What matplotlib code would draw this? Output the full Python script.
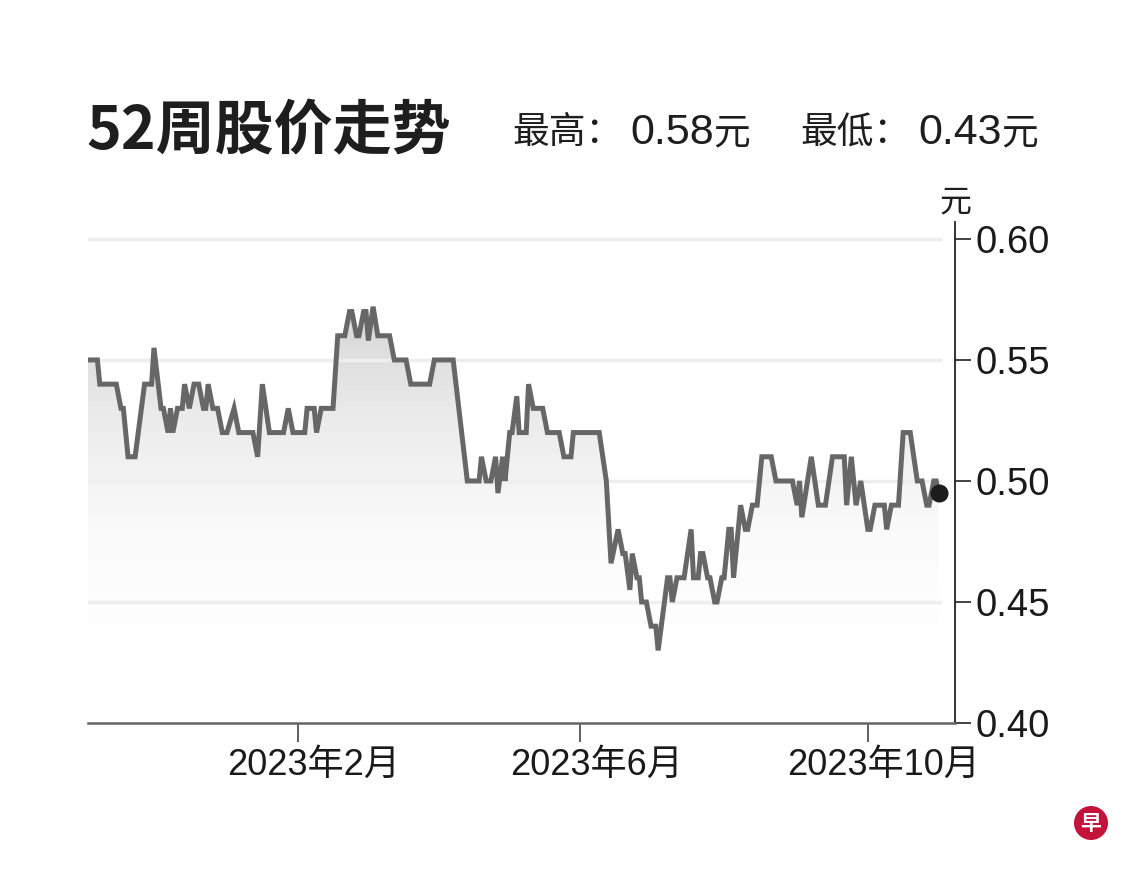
import numpy as np
import matplotlib
matplotlib.use("Agg")
import matplotlib.pyplot as plt
import matplotlib.dates as mdates
from matplotlib.colors import LinearSegmentedColormap
from matplotlib.patches import Circle
from matplotlib.transforms import ScaledTranslation, IdentityTransform

# -----------------------------------------------------------------
# Data (days counted from start_date)
# -----------------------------------------------------------------
start_date = "2022-11-04"
day_offset = [0, 4, 5, 12, 14, 15, 17, 20, 24, 27, 28, 31, 32, 34, 35, 36, 38, 40,
              41, 43, 45, 47, 49, 50, 51, 53, 55, 57, 59, 62, 64, 70, 72, 74, 77,
              83, 85, 87, 92, 93, 96, 97, 99, 104, 106, 109, 111, 112, 114, 115,
              117, 118, 119, 121, 123, 128, 130, 135, 137, 145, 147, 155, 161,
              166, 167, 169, 171, 173, 174, 176, 177, 179, 180, 182, 183, 186,
              187, 189, 193, 195, 200, 202, 205, 206, 217, 220, 222, 225, 227,
              228, 230, 231, 233, 234, 235, 237, 239, 241, 242, 246, 247, 248,
              250, 253, 256, 257, 259, 260, 261, 263, 264, 266, 267, 269, 270,
              272, 273, 274, 277, 279, 280, 282, 284, 286, 290, 292, 299, 301,
              302, 303, 307, 310, 313, 316, 321, 322, 324, 326, 328, 331, 332,
              334, 338, 339, 341, 344, 346, 349, 352, 354, 356, 357, 359, 360, 361]
price = [0.55, 0.55, 0.54, 0.54, 0.53, 0.53, 0.51, 0.51, 0.54, 0.54, 0.555, 0.53,
         0.53, 0.52, 0.53, 0.52, 0.53, 0.53, 0.54, 0.53, 0.54, 0.54, 0.53, 0.53,
         0.54, 0.53, 0.53, 0.52, 0.52, 0.53, 0.52, 0.52, 0.51, 0.54, 0.52, 0.52,
         0.53, 0.52, 0.52, 0.53, 0.53, 0.52, 0.53, 0.53, 0.56, 0.56, 0.57, 0.57,
         0.56, 0.56, 0.57, 0.57, 0.558, 0.572, 0.56, 0.56, 0.55, 0.55, 0.54, 0.54,
         0.55, 0.55, 0.50, 0.50, 0.51, 0.50, 0.50, 0.51, 0.495, 0.51, 0.50, 0.52,
         0.52, 0.535, 0.52, 0.52, 0.54, 0.53, 0.53, 0.52, 0.52, 0.51, 0.51, 0.52,
         0.52, 0.50, 0.466, 0.48, 0.47, 0.47, 0.455, 0.47, 0.46, 0.46, 0.45, 0.45,
         0.44, 0.44, 0.43, 0.46, 0.46, 0.45, 0.46, 0.46, 0.48, 0.46, 0.46, 0.47,
         0.47, 0.46, 0.46, 0.45, 0.45, 0.46, 0.46, 0.48, 0.48, 0.46, 0.49, 0.48,
         0.48, 0.49, 0.49, 0.51, 0.51, 0.50, 0.50, 0.49, 0.50, 0.485, 0.51, 0.49,
         0.49, 0.51, 0.51, 0.49, 0.51, 0.49, 0.50, 0.48, 0.48, 0.49, 0.49, 0.48,
         0.49, 0.49, 0.52, 0.52, 0.50, 0.50, 0.49, 0.49, 0.50, 0.50, 0.495]

tick_dates = ["2023-02-01", "2023-06-01", "2023-10-01"]
tick_labels = ["2023年2月", "2023年6月", "2023年10月"]
y_ticks = [0.40, 0.45, 0.50, 0.55, 0.60]
y_labels = ["0.40", "0.45", "0.50", "0.55", "0.60"]

title = "52周股价走势"
high_value = 0.58
low_value = 0.43
unit = "元"

CJK = ["Noto Sans CJK SC", "DejaVu Sans"]
MIXED = ["Liberation Sans", "Noto Sans CJK SC", "DejaVu Sans"]

# -----------------------------------------------------------------
# Figure / axes
# -----------------------------------------------------------------
W, H = 1140, 874
fig = plt.figure(figsize=(W / 100, H / 100), dpi=100)
fig.patch.set_facecolor("white")
ax = fig.add_axes([88 / W, 1 - 723 / H, (955 - 88) / W, (723 - 222) / H])

t0 = np.datetime64(start_date)
dates = t0 + np.array(day_offset).astype("timedelta64[D]")
x = mdates.date2num(dates)
y = np.array(price)

x_lo = mdates.date2num(t0)
x_hi = mdates.date2num(t0 + np.timedelta64(368, "D"))

# gradient fill below the line, clipped by the area polygon
poly = ax.fill_between(x, y, 0.40, facecolor="none", edgecolor="none")
cmap = LinearSegmentedColormap.from_list("fade", ["#ffffff", "#fbfbfb", "#ebebeb", "#d4d4d4"])
grad = np.linspace(0, 1, 256).reshape(-1, 1)
im = ax.imshow(grad, extent=[x.min(), x.max(), 0.43, 0.575], origin="lower",
               cmap=cmap, aspect="auto", zorder=1, interpolation="bicubic")
im.set_clip_path(poly.get_paths()[0], transform=ax.transData)
ax.set_xlim(x_lo, x_hi)
ax.set_ylim(0.40, 0.607)

# light horizontal guides
for yt in y_ticks[1:]:
    ax.axhline(yt, xmin=0, xmax=0.983, color="#eeeeee", lw=2.5, zorder=2)

ax.plot(x, y, color="#676767", lw=3.6, solid_joinstyle="miter", zorder=3)
ax.plot(x[-1], y[-1], "o", color="#1c1c1c", ms=12, zorder=4)

# -----------------------------------------------------------------
# Axes styling
# -----------------------------------------------------------------
ax.spines["left"].set_visible(False)
ax.spines["top"].set_visible(False)
ax.spines["right"].set_color("#222222")
ax.spines["right"].set_linewidth(1.3)
ax.spines["bottom"].set_color("#666666")
ax.spines["bottom"].set_linewidth(1.8)

ax.yaxis.tick_right()
ax.set_yticks(y_ticks)
ax.set_yticklabels(y_labels, fontfamily=MIXED, fontsize=27.5, color="#1a1a1a")
ax.tick_params(axis="y", direction="out", length=11.5, width=1.2, color="#222222", pad=3)

ax.set_xticks(mdates.date2num(np.array(tick_dates, dtype="datetime64[D]")))
ax.set_xticklabels(tick_labels, fontfamily=MIXED, fontsize=26, color="#1a1a1a")
ax.tick_params(axis="x", direction="out", length=14, width=1.2, color="#444444", pad=4)
offset = ScaledTranslation(16 / 100, 0, fig.dpi_scale_trans)
for lab in ax.get_xticklabels():
    lab.set_transform(lab.get_transform() + offset)

# -----------------------------------------------------------------
# Texts
# -----------------------------------------------------------------
fig.text(86 / W, 1 - 132 / H, title, fontfamily=CJK, fontweight="bold",
         fontsize=42.5, color="#1e1e1e", va="center", ha="left")

def head_item(x_label, x_num, x_unit, label, value):
    fig.text(x_label / W, 1 - 133 / H, label, fontfamily=CJK, fontsize=26.5,
             color="#1e1e1e", va="center", ha="left")
    fig.text(x_num / W, 1 - 133 / H, f"{value:.2f}", fontfamily=MIXED, fontsize=31,
             color="#1e1e1e", va="center", ha="left")
    fig.text(x_unit / W, 1 - 133 / H, unit, fontfamily=CJK, fontsize=26.5,
             color="#1e1e1e", va="center", ha="left")

head_item(512, 630, 713, "最高：", high_value)
head_item(800, 918, 1001, "最低：", low_value)

fig.text(955 / W, 1 - 203 / H, unit, fontfamily=CJK, fontsize=23,
         color="#1e1e1e", va="center", ha="center")

# logo
fig.add_artist(Circle((1091, H - 823), 17, transform=IdentityTransform(),
                      facecolor="#c4123b", edgecolor="none"))
fig.text(1091 / W, 1 - 823 / H, "早", fontfamily=CJK, fontweight="bold",
         fontsize=15, color="white", va="center", ha="center")

fig.savefig("out.png", dpi=100, facecolor="white")
